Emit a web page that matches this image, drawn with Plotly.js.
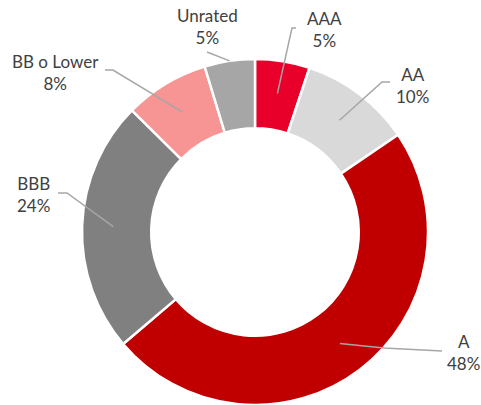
<!DOCTYPE html>
<html>
<head>
<meta charset="utf-8">
<script src="https://cdn.plot.ly/plotly-3.0.1.min.js"></script>
<style>html,body{margin:0;padding:0;background:#fff;}#chart{width:481px;height:405px;}</style>
</head>
<body>
<div id="chart"></div>
<script>
// Data
const categories = ["AAA", "AA", "A", "BBB", "BB o Lower", "Unrated"];
const shares = [5.1, 10.4, 48.3, 23.6, 7.9, 4.7];
const colors = ["#E8002A", "#D9D9D9", "#C00000", "#808080", "#F79494", "#A6A6A6"];

// Layout helpers (pixel geometry of the figure)
const W = 481, H = 405;
const CX = 255, CY = 232, R = 173;
// label centers and leader-line elbow points (pixels), and leader depth (fraction of radius)
const labelCenters = [[324, 29], [412, 85], [463, 352], [33, 195], [55, 72], [207, 27]];
const elbows = [[[296, 28], [292, 28]], [[390, 82], [382, 82]], [[442, 351], [384, 348]],
                [[58, 193], [67, 193]], [[105, 70], [113, 70]], [[207, 52], [207, 52]]];
const depth = [0.81, 0.81, 0.81, 0.82, 0.81, 1.0];

const total = shares.reduce((a, b) => a + b, 0);
const px = x => x / W, py = y => 1 - y / H;

const annotations = [];
const shapes = [];
let cum = 0;
shares.forEach((v, i) => {
  const mid = (cum + v / 2) / total * 2 * Math.PI;
  cum += v;
  const ex = CX + R * depth[i] * Math.sin(mid);
  const ey = CY - R * depth[i] * Math.cos(mid);
  const [p0, p1] = elbows[i];
  shapes.push({
    type: "path", xref: "paper", yref: "paper",
    path: `M ${px(p0[0])} ${py(p0[1])} L ${px(p1[0])} ${py(p1[1])} L ${px(ex)} ${py(ey)}`,
    line: {color: "#A6A6A6", width: 1.5}
  });
  annotations.push({
    xref: "paper", yref: "paper",
    x: px(labelCenters[i][0]), y: py(labelCenters[i][1]),
    xanchor: "center", yanchor: "middle",
    text: categories[i] + "<br>" + Math.round(v / total * 100) + "%",
    showarrow: false, align: "center",
    font: {family: "Lato, 'Open Sans', sans-serif", size: 17, color: "#404040"}
  });
});

const trace = {
  type: "pie",
  labels: categories,
  values: shares,
  sort: false,
  direction: "clockwise",
  rotation: 0,
  hole: 0.6,
  textinfo: "none",
  hoverinfo: "label+percent",
  marker: {colors: colors, line: {color: "#FFFFFF", width: 2.5}},
  domain: {x: [px(CX - R), px(CX + R)], y: [Math.max(0, py(CY + R)), py(CY - R)]},
  showlegend: false
};

Plotly.newPlot("chart", [trace], {
  width: W, height: H,
  margin: {l: 0, r: 0, t: 0, b: 0},
  paper_bgcolor: "#FFFFFF",
  showlegend: false,
  annotations: annotations,
  shapes: shapes
}, {displayModeBar: false, staticPlot: true});
</script>
</body>
</html>
